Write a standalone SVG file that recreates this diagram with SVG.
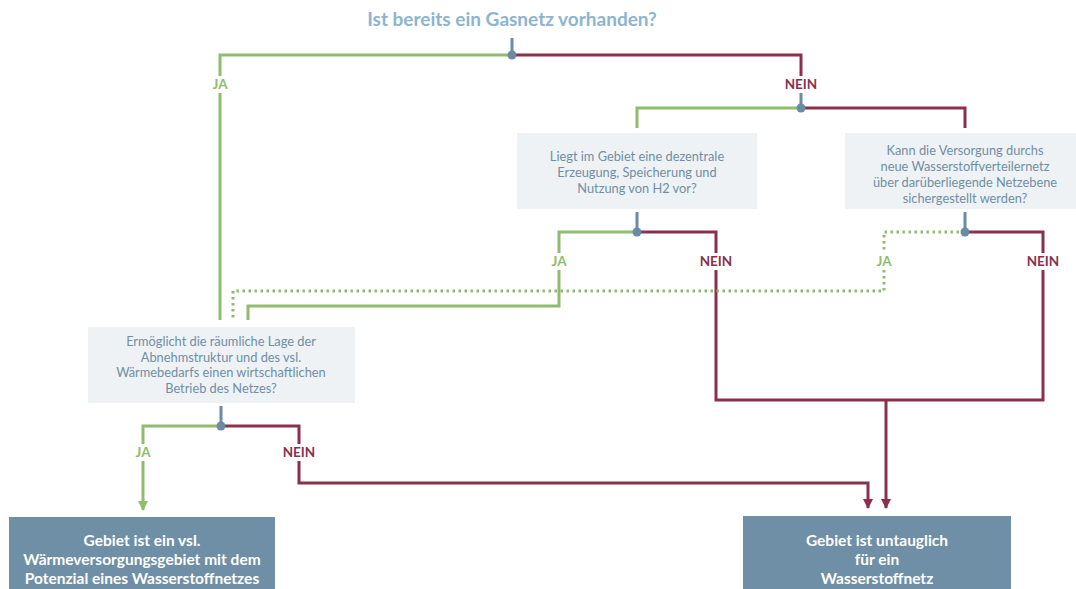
<svg xmlns="http://www.w3.org/2000/svg" width="1076" height="589" viewBox="0 0 1076 589">
<defs>
<style>
.g{fill:none;stroke:#8fbc6f;stroke-width:3}
.gd{fill:none;stroke:#8fbc6f;stroke-width:3;stroke-dasharray:2.5 3.5}
.r{fill:none;stroke:#8a304d;stroke-width:3}
.b{fill:none;stroke:#6b8ba5;stroke-width:3}
.dot{fill:#6b8ba5}
.q{fill:#eef2f5}
.qt{font-family:Lato,"Liberation Sans",sans-serif;font-size:12.8px;fill:#6f8ea6;text-anchor:middle}
.res{fill:#6f8fa6}
.rt{font-family:Lato,"Liberation Sans",sans-serif;font-size:15.5px;font-weight:bold;fill:#ffffff;text-anchor:middle}
.ja{font-family:Lato,"Liberation Sans",sans-serif;font-size:13.5px;font-weight:bold;fill:#8fbc6f;text-anchor:middle}
.nein{font-family:Lato,"Liberation Sans",sans-serif;font-size:13.5px;font-weight:bold;fill:#8a304d;text-anchor:middle}
</style>
<marker id="ag" viewBox="0 0 10 10" refX="9" refY="5" markerWidth="10" markerHeight="10" markerUnits="userSpaceOnUse" orient="auto"><path d="M0,0 L10,5 L0,10 Z" fill="#8fbc6f"/></marker>
<marker id="ar" viewBox="0 0 10 10" refX="9" refY="5" markerWidth="10" markerHeight="10" markerUnits="userSpaceOnUse" orient="auto"><path d="M0,0 L10,5 L0,10 Z" fill="#8a304d"/></marker>
</defs>
<rect width="1076" height="589" fill="#ffffff"/>

<g id="title">
<text x="512" y="26" style="font-family:Lato,'Liberation Sans',sans-serif;font-size:19px;font-weight:bold;fill:#8db4d0" text-anchor="middle">Ist bereits ein Gasnetz vorhanden?</text>
</g>

<g id="connectors">
<path class="g" d="M512,55 H220 V76 M220,93 V320"/>
<path class="r" d="M512,55 H801 V76"/>
<path class="b" d="M512,38 V55"/>
<path class="b" d="M801,93 V108"/>
<path class="g" d="M801,108 H637 V128"/>
<path class="r" d="M801,108 H965 V128"/>
<path class="b" d="M637,212 V232"/>
<path class="g" d="M637,232 H559 V253 M559,270 V306 H248 V320"/>
<path class="r" d="M637,232 H716 V253 M716,270 V400 H1043 V270"/>
<path class="r" d="M965,232 H1043 V253"/>
<path class="r" d="M886,400 V508" marker-end="url(#ar)"/>
<path class="b" d="M965,212 V232"/>
<path class="gd" d="M965,232 H884 V253 M884,270 V291 H233 V320"/>
<path class="b" d="M221,406 V426"/>
<path class="g" d="M221,426 H143 V444 M143,461 V510" marker-end="url(#ag)"/>
<path class="r" d="M221,426 H299 V444 M299,461 V483 H868 V508" marker-end="url(#ar)"/>
<circle class="dot" cx="512" cy="55" r="4.5"/>
<circle class="dot" cx="801" cy="108" r="4.5"/>
<circle class="dot" cx="637" cy="232" r="4.5"/>
<circle class="dot" cx="965" cy="232" r="4.5"/>
<circle class="dot" cx="221" cy="426" r="4.5"/>
<text class="ja" x="220" y="89">JA</text>
<text class="nein" x="801" y="89">NEIN</text>
<text class="ja" x="559" y="266">JA</text>
<text class="nein" x="716" y="266">NEIN</text>
<text class="ja" x="884" y="266">JA</text>
<text class="nein" x="1043" y="266">NEIN</text>
<text class="ja" x="143" y="457">JA</text>
<text class="nein" x="299" y="457">NEIN</text>
</g>

<g id="q-dezentral">
<rect class="q" x="517" y="133" width="240" height="76"/>
<text class="qt" x="637" y="161">Liegt im Gebiet eine dezentrale</text>
<text class="qt" x="637" y="177">Erzeugung, Speicherung und</text>
<text class="qt" x="637" y="193">Nutzung von H2 vor?</text>
</g>

<g id="q-versorgung">
<rect class="q" x="845" y="133" width="240" height="76"/>
<text class="qt" x="965" y="155">Kann die Versorgung durchs</text>
<text class="qt" x="965" y="171">neue Wasserstoffverteilernetz</text>
<text class="qt" x="965" y="187">über darüberliegende Netzebene</text>
<text class="qt" x="965" y="203">sichergestellt werden?</text>
</g>

<g id="q-lage">
<rect class="q" x="88" y="327" width="267" height="76"/>
<text class="qt" x="221" y="346">Ermöglicht die räumliche Lage der</text>
<text class="qt" x="221" y="362">Abnehmstruktur und des vsl.</text>
<text class="qt" x="221" y="377">Wärmebedarfs einen wirtschaftlichen</text>
<text class="qt" x="221" y="393">Betrieb des Netzes?</text>
</g>

<g id="res-potenzial">
<rect class="res" x="9" y="517" width="266" height="80"/>
<text class="rt" x="142" y="546">Gebiet ist ein vsl.</text>
<text class="rt" x="142" y="565">Wärmeversorgungsgebiet mit dem</text>
<text class="rt" x="142" y="584">Potenzial eines Wasserstoffnetzes</text>
</g>

<g id="res-untauglich">
<rect class="res" x="743" y="516" width="268" height="80"/>
<text class="rt" x="877" y="546">Gebiet ist untauglich</text>
<text class="rt" x="877" y="565">für ein</text>
<text class="rt" x="877" y="584">Wasserstoffnetz</text>
</g>
</svg>
